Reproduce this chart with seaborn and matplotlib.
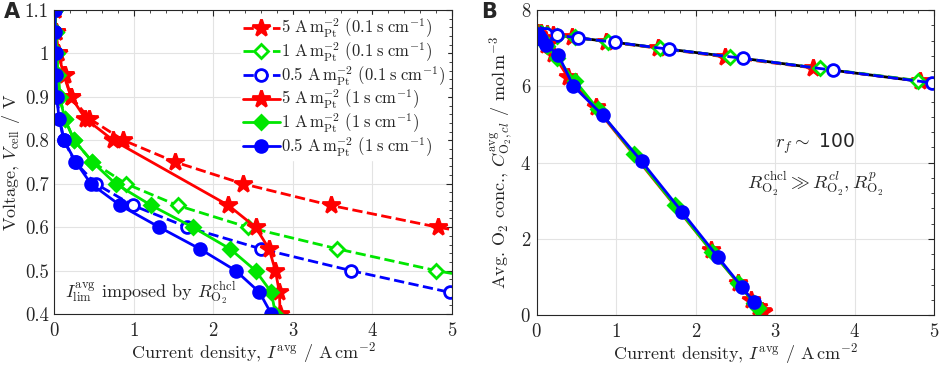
import numpy as np
import pandas as pd
import matplotlib
matplotlib.use("Agg")
import matplotlib.pyplot as plt
import seaborn as sns
from matplotlib.ticker import MultipleLocator

# voltage steps (V)
v_red_dash = [1.1, 1.05, 1.0, 0.95, 0.9, 0.85, 0.8, 0.75, 0.7, 0.65, 0.6, 0.55]
v_grn_dash = [1.1, 1.05, 1.0, 0.95, 0.9, 0.85, 0.8, 0.75, 0.7, 0.65, 0.6, 0.55, 0.5, 0.45]
v_blu_dash = [1.1, 1.05, 1.0, 0.95, 0.9, 0.85, 0.8, 0.75, 0.7, 0.65, 0.6, 0.55, 0.5, 0.45, 0.4]
v_red_sol = [1.1, 1.05, 1.0, 0.95, 0.9, 0.85, 0.8, 0.65, 0.6, 0.55, 0.5, 0.45, 0.4]
v_grn_sol = [1.1, 1.05, 1.0, 0.95, 0.9, 0.85, 0.8, 0.75, 0.7, 0.65, 0.6, 0.55, 0.5, 0.45, 0.4]
v_blu_sol = [1.1, 1.05, 1.0, 0.95, 0.9, 0.85, 0.8, 0.75, 0.7, 0.65, 0.6, 0.55, 0.5, 0.45, 0.4]

# current density (A/cm2)
i_red_dash = [0.01, 0.02, 0.05, 0.13, 0.21, 0.44, 0.87, 1.52, 2.37, 3.48, 4.82, 6.40]
i_grn_dash = [0.01, 0.02, 0.03, 0.05, 0.07, 0.13, 0.25, 0.48, 0.90, 1.55, 2.43, 3.56, 4.80, 6.30]
i_blu_dash = [0.01, 0.01, 0.02, 0.02, 0.03, 0.07, 0.12, 0.26, 0.52, 0.99, 1.67, 2.60, 3.73, 4.97, 6.40]
i_red_sol = [0.01, 0.02, 0.05, 0.12, 0.21, 0.39, 0.74, 2.19, 2.53, 2.70, 2.78, 2.83, 2.84]
i_grn_sol = [0.01, 0.02, 0.03, 0.05, 0.07, 0.13, 0.25, 0.48, 0.77, 1.22, 1.74, 2.21, 2.53, 2.73, 2.78]
i_blu_sol = [0.01, 0.01, 0.02, 0.02, 0.03, 0.06, 0.12, 0.27, 0.46, 0.83, 1.32, 1.83, 2.28, 2.58, 2.73]

# avg O2 concentration in catalyst layer (mol/m3)
c_red_dash = [7.40, 7.39, 7.39, 7.37, 7.35, 7.29, 7.17, 7.00, 6.77, 6.48, 6.14, 5.73]
c_grn_dash = [7.40, 7.39, 7.39, 7.39, 7.38, 7.37, 7.33, 7.28, 7.17, 7.00, 6.77, 6.47, 6.15, 5.76]
c_blu_dash = [7.40, 7.40, 7.40, 7.40, 7.39, 7.38, 7.37, 7.34, 7.27, 7.15, 6.97, 6.73, 6.42, 6.09, 5.72]
c_red_sol = [7.37, 7.35, 7.27, 7.09, 6.85, 6.25, 5.45, 1.70, 0.85, 0.40, 0.20, 0.10, 0.07]
c_grn_sol = [7.37, 7.35, 7.32, 7.27, 7.22, 7.06, 6.75, 6.15, 5.40, 4.23, 2.88, 1.65, 0.85, 0.32, 0.18]
c_blu_sol = [7.37, 7.37, 7.35, 7.35, 7.32, 7.24, 7.09, 6.83, 6.01, 5.24, 4.03, 2.70, 1.52, 0.74, 0.35]

labels = [
    r"$5\ \mathrm{A\,m_{Pt}^{-2}}\ (0.1\;\mathrm{s\;cm^{-1}})$",
    r"$1\ \mathrm{A\,m_{Pt}^{-2}}\ (0.1\;\mathrm{s\;cm^{-1}})$",
    r"$0.5\ \mathrm{A\,m_{Pt}^{-2}}\ (0.1\;\mathrm{s\;cm^{-1}})$",
    r"$5\ \mathrm{A\,m_{Pt}^{-2}}\ (1\;\mathrm{s\;cm^{-1}})$",
    r"$1\ \mathrm{A\,m_{Pt}^{-2}}\ (1\;\mathrm{s\;cm^{-1}})$",
    r"$0.5\ \mathrm{A\,m_{Pt}^{-2}}\ (1\;\mathrm{s\;cm^{-1}})$",
]

RED, GRN, BLU = "#ff0000", "#00e600", "#0000ff"

sns.set_style("whitegrid")
plt.rcParams["font.family"] = "serif"
plt.rcParams["font.serif"] = ["cmr10"]
plt.rcParams["mathtext.fontset"] = "cm"
plt.rcParams["axes.formatter.use_mathtext"] = True

series = [
    (i_red_dash, v_red_dash, c_red_dash, RED, "*", "--", True, 13, labels[0]),
    (i_grn_dash, v_grn_dash, c_grn_dash, GRN, "D", "--", False, 7.5, labels[1]),
    (i_blu_dash, v_blu_dash, c_blu_dash, BLU, "o", "--", False, 8.5, labels[2]),
    (i_red_sol, v_red_sol, c_red_sol, RED, "*", "-", True, 13, labels[3]),
    (i_grn_sol, v_grn_sol, c_grn_sol, GRN, "D", "-", True, 7.5, labels[4]),
    (i_blu_sol, v_blu_sol, c_blu_sol, BLU, "o", "-", True, 8.5, labels[5]),
]

fig = plt.figure(figsize=(9.41, 3.66), dpi=100)
axA = fig.add_axes([0.0577, 0.142, 0.4226, 0.8307])
axB = fig.add_axes([0.5703, 0.139, 0.4226, 0.8337])


def draw(ax, xs, ys, color, marker, ls, filled, ms, label):
    df = pd.DataFrame({"x": xs, "y": ys})
    sns.lineplot(data=df, x="x", y="y", ax=ax, estimator=None, sort=False,
                 color=color, marker=marker, linestyle=ls, linewidth=2,
                 markersize=ms, markeredgewidth=2, markeredgecolor=color,
                 markerfacecolor=color if filled else "white",
                 label=label, legend=False)


for xs, vs, cs, col, mk, ls, filled, ms, lab in series:
    draw(axA, xs, vs, col, mk, ls, filled, ms, lab)

# panel B: black reference dashes under the coloured dashed lines
dfb = pd.DataFrame({"x": i_blu_dash, "y": c_blu_dash})
sns.lineplot(data=dfb, x="x", y="y", ax=axB, estimator=None, sort=False,
             color="black", linewidth=2, dashes=False, legend=False)
for xs, vs, cs, col, mk, ls, filled, ms, lab in series:
    draw(axB, xs, cs, col, mk, ls, filled, ms, lab)

for ax in (axA, axB):
    ax.set_xlim(0, 5)
    ax.xaxis.set_major_locator(MultipleLocator(1))
    ax.xaxis.set_minor_locator(MultipleLocator(0.2))
    ax.tick_params(which="both", direction="in", top=True, right=True,
                   labelsize=13.5, colors="#262626", pad=4)
    ax.tick_params(axis="x", which="both", pad=6)
    ax.tick_params(which="major", length=4, width=0.8)
    ax.tick_params(which="minor", length=2, width=0.6)
    ax.grid(True, which="major", color="#e3e3e3", linewidth=0.8)
    for s in ax.spines.values():
        s.set_color("#262626")
        s.set_linewidth(0.8)
    ax.set_xlabel(r"Current density, $I^{\mathrm{avg}}$ / $\mathrm{A\,cm^{-2}}$",
                  fontsize=13)
    ax.xaxis.set_label_coords(0.5, -0.085)

axA.set_ylim(0.4, 1.1)
axA.yaxis.set_minor_locator(MultipleLocator(0.02))
axA.set_yticks(np.arange(0.4, 1.11, 0.1))
axA.set_yticklabels(["0.4", "0.5", "0.6", "0.7", "0.8", "0.9", "1", "1.1"])
axA.set_ylabel(r"Voltage, $V_{\mathrm{cell}}$ / V", fontsize=13)
axA.yaxis.set_label_coords(-0.08, 0.5)

axB.set_ylim(0, 8)
axB.yaxis.set_major_locator(MultipleLocator(2))
axB.yaxis.set_minor_locator(MultipleLocator(0.4))
axB.set_ylabel(r"Avg. O$_2$ conc., $C^{\mathrm{avg}}_{\mathrm{O_2},cl}$ / $\mathrm{mol\,m^{-3}}$",
               fontsize=13)
axB.yaxis.set_label_coords(-0.055, 0.5)

leg = axA.legend(loc="upper right", fontsize=12, frameon=True, handlelength=2.2,
                 handletextpad=0.1, labelspacing=0.0, borderaxespad=0.3,
                 borderpad=0.1)
leg.get_frame().set_edgecolor("white")
leg.get_frame().set_alpha(1)

axA.text(0.13, 0.45, r"$I_{\mathrm{lim}}^{\mathrm{avg}}$ imposed by $R_{\mathrm{O_2}}^{\mathrm{chcl}}$",
         fontsize=13, va="center", ha="left")
axB.text(3.5, 4.5, r"$r_f \sim$ 100", fontsize=13.5, ha="center", va="center",
         family="DejaVu Sans")
axB.text(3.5, 3.45, r"$R_{\mathrm{O_2}}^{\mathrm{chcl}} \gg R_{\mathrm{O_2}}^{cl}, R_{\mathrm{O_2}}^{p}$",
         fontsize=13.5, ha="center", va="center")

fig.text(0.004, 0.995, "A", fontsize=15, fontweight="bold", family="DejaVu Sans",
         va="top")
fig.text(0.511, 0.995, "B", fontsize=15, fontweight="bold", family="DejaVu Sans",
         va="top")

fig.savefig("out.png", dpi=100)
